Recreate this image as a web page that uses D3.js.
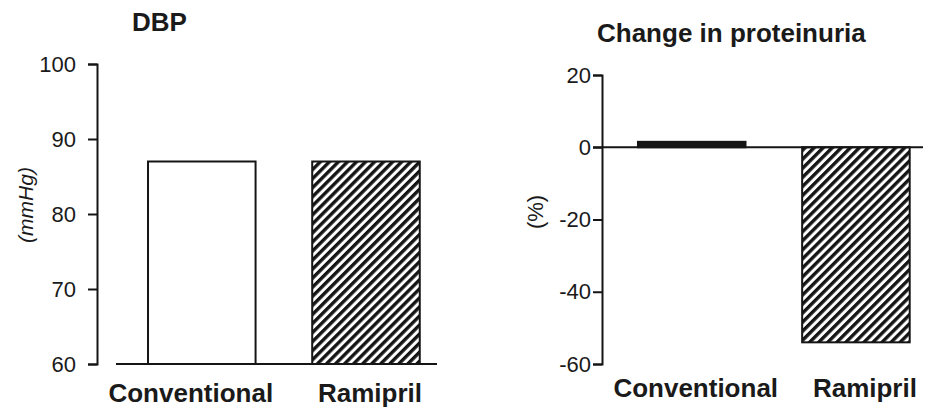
<!DOCTYPE html>
<html>
<head>
<meta charset="utf-8">
<script src="https://cdn.jsdelivr.net/npm/d3@7"></script>
<style>
  body { margin: 0; background: #fff; }
  svg { display: block; }
  text { font-family: "Liberation Sans", Arial, sans-serif; fill: #1a1a1a; }
  .tick text { font-size: 22px; }
  .cat { font-size: 26px; font-weight: bold; }
  .title { font-size: 26px; font-weight: bold; }
</style>
</head>
<body>
<div id="chart"></div>
<script>
// groups shared by both panels
var groups = ["Conventional", "Ramipril"];

// DBP (mmHg)
var dbpValues = [87, 87];
var dbpTicks = [60, 70, 80, 90, 100];

// change in proteinuria (%)
var protValues = [1.5, -54];
var protTicks = [-60, -40, -20, 0, 20];

var ink = "#151515";

var svg = d3.select("#chart").append("svg")
	.attr("width", 925)
	.attr("height", 409);

// hatch pattern for Ramipril bars
var defs = svg.append("defs");
defs.append("pattern")
	.attr("id", "hatch")
	.attr("patternUnits", "userSpaceOnUse")
	.attr("width", 6.4)
	.attr("height", 6.4)
	.attr("patternTransform", "rotate(45)")
  .append("rect")
	.attr("x", 0)
	.attr("y", 0)
	.attr("width", 3.4)
	.attr("height", 6.4)
	.attr("fill", ink);

var fills = ["#fff", "url(#hatch)"];

// plain hyphen minus like the original print
var plainFormat = function(d) { return String(d); };

//left panel: DBP
var xLeft = d3.scaleBand()
	.domain(groups)
	.range([116, 437])
	.paddingInner(0.345)
	.paddingOuter(0.15)
	.align(0.65);

var yLeft = d3.scaleLinear()
	.domain([60, 100])
	.range([364, 64]);

svg.append("g")
	.attr("transform", "translate(97,0)")
	.call(d3.axisLeft(yLeft).tickValues(dbpTicks).tickFormat(plainFormat)
		.tickSize(9).tickSizeOuter(9).tickPadding(12));

svg.selectAll(".dbp")
	.data(dbpValues)
	.enter()
	.append("rect")
	.attr("class", "dbp")
	.attr("x", function(d, i) { return xLeft(groups[i]); })
	.attr("y", function(d) { return yLeft(d); })
	.attr("width", xLeft.bandwidth())
	.attr("height", function(d) { return yLeft(60) - yLeft(d); })
	.attr("fill", function(d, i) { return fills[i]; })
	.attr("stroke", ink)
	.attr("stroke-width", 2);

svg.append("line")
	.attr("x1", xLeft.range()[0])
	.attr("x2", xLeft.range()[1])
	.attr("y1", yLeft(60))
	.attr("y2", yLeft(60))
	.attr("stroke", ink)
	.attr("stroke-width", 2);

var leftShift = [-11, 4];
svg.selectAll(".catL")
	.data(groups)
	.enter()
	.append("text")
	.attr("class", "cat")
	.attr("x", function(d, i) { return xLeft(d) + xLeft.bandwidth() / 2 + leftShift[i]; })
	.attr("y", 402)
	.attr("text-anchor", "middle")
	.text(function(d) { return d; });

svg.append("text")
	.attr("class", "title")
	.attr("x", 132)
	.attr("y", 31)
	.text("DBP");

svg.append("text")
	.attr("transform", "translate(33,205) rotate(-90)")
	.attr("text-anchor", "middle")
	.style("font-size", "21px")
	.style("font-style", "italic")
	.text("(mmHg)");

//right panel: change in proteinuria
var xRight = d3.scaleBand()
	.domain(groups)
	.range([602, 923])
	.paddingInner(0.345)
	.paddingOuter(0.15)
	.align(0.73);

var yRight = d3.scaleLinear()
	.domain([-60, 20])
	.range([364, 75]);

svg.append("g")
	.attr("transform", "translate(602,0)")
	.call(d3.axisLeft(yRight).tickValues(protTicks).tickFormat(plainFormat)
		.tickSize(9).tickSizeOuter(9).tickPadding(2));

svg.selectAll(".prot")
	.data(protValues)
	.enter()
	.append("rect")
	.attr("class", "prot")
	.attr("x", function(d, i) { return xRight(groups[i]); })
	.attr("y", function(d) { return yRight(Math.max(0, d)); })
	.attr("width", xRight.bandwidth())
	.attr("height", function(d) { return Math.abs(yRight(d) - yRight(0)); })
	.attr("fill", function(d, i) { return i == 0 ? ink : fills[i]; })
	.attr("stroke", ink)
	.attr("stroke-width", 2);

svg.append("line")
	.attr("x1", 593)
	.attr("x2", xRight.range()[1])
	.attr("y1", yRight(0))
	.attr("y2", yRight(0))
	.attr("stroke", ink)
	.attr("stroke-width", 2);

var rightShift = [4, 9];
svg.selectAll(".catR")
	.data(groups)
	.enter()
	.append("text")
	.attr("class", "cat")
	.attr("x", function(d, i) { return xRight(d) + xRight.bandwidth() / 2 + rightShift[i]; })
	.attr("y", 397)
	.attr("text-anchor", "middle")
	.text(function(d) { return d; });

svg.append("text")
	.attr("class", "title")
	.attr("x", 597)
	.attr("y", 42)
	.text("Change in proteinuria");

svg.append("text")
	.attr("transform", "translate(543,212) rotate(-90)")
	.attr("text-anchor", "middle")
	.style("font-size", "22px")
	.text("(%)");

// axis styling
svg.selectAll(".domain, .tick line")
	.attr("stroke", ink)
	.attr("stroke-width", 2);
svg.selectAll(".tick text")
	.attr("fill", "#1a1a1a");
</script>
</body>
</html>
